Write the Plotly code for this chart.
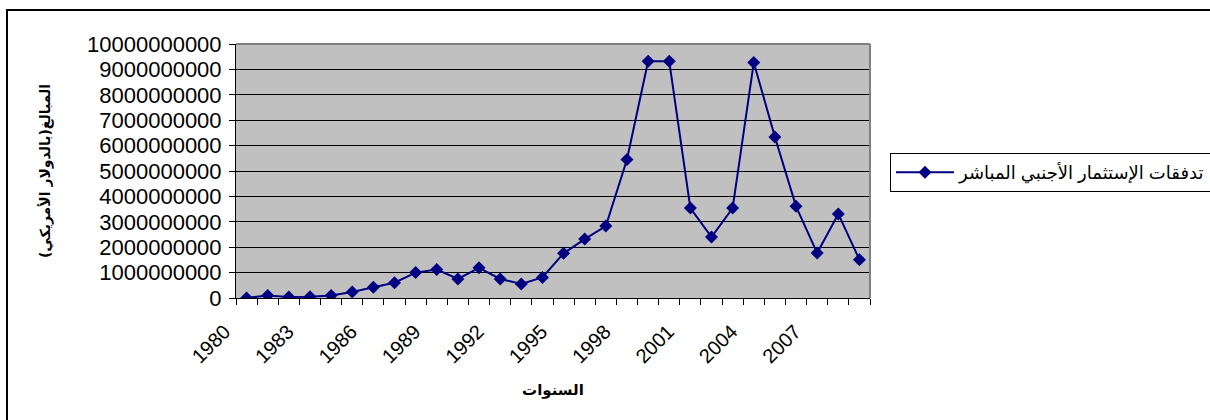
import plotly.graph_objects as go

years = list(range(1980, 2010))
fdi_usd = [0.00e9, 0.10e9, 0.04e9, 0.05e9, 0.10e9, 0.24e9, 0.42e9, 0.60e9, 1.00e9, 1.12e9,
           0.75e9, 1.19e9, 0.75e9, 0.55e9, 0.81e9, 1.76e9, 2.32e9, 2.83e9, 5.45e9, 9.32e9,
           9.32e9, 3.54e9, 2.40e9, 3.54e9, 9.27e9, 6.34e9, 3.61e9, 1.77e9, 3.31e9, 1.51e9]
tick_years = [1980, 1983, 1986, 1989, 1992, 1995, 1998, 2001, 2004, 2007]
tick_labels = [str(y) for y in tick_years]
y_ticks = [0, 1e9, 2e9, 3e9, 4e9, 5e9, 6e9, 7e9, 8e9, 9e9, 1e10]

series_name = "تدفقات الإستثمار الأجنبي المباشر"
x_title = "السنوات"
y_title = "المبالغ(بالدولار الأمريكي)"

FONT = "Liberation Sans, Arial, DejaVu Sans, sans-serif"
NAVY = "#000080"

fig = go.Figure()
fig.add_trace(go.Scatter(
    x=years, y=fdi_usd, mode="lines+markers", name=series_name,
    line=dict(color=NAVY, width=2),
    marker=dict(symbol="diamond", size=10, color=NAVY),
))

fig.update_layout(
    width=1210, height=420,
    margin=dict(l=236, r=340, t=44, b=122, autoexpand=False),
    paper_bgcolor="white", plot_bgcolor="#C0C0C0",
    font=dict(family=FONT, color="black"),
    showlegend=True,
    legend=dict(
        x=1.0315, y=0.571, xanchor="left", yanchor="top",
        bordercolor="black", borderwidth=1, bgcolor="white",
        font=dict(size=18, family=FONT), itemwidth=58,
    ),
)

fig.update_xaxes(
    range=[1979.5, 2009.5], tickmode="array", tickvals=tick_years, ticktext=tick_labels,
    tickangle=-45, tickfont=dict(size=20), ticks="outside", ticklen=0,
    ticklabelshift=-22, ticklabelstandoff=13,
    minor=dict(tickmode="linear", tick0=1979.5, dtick=1, ticks="outside", ticklen=6,
               tickcolor="black", showgrid=False),
    showgrid=False, showline=True, linecolor="black", linewidth=1, zeroline=False,
    title=dict(text=x_title, font=dict(size=15, family="DejaVu Sans", weight="bold"), standoff=18),
    automargin=False,
)
fig.update_yaxes(
    range=[0, 1e10], tickmode="array", tickvals=y_ticks, tickformat="d",
    tickfont=dict(size=22), ticks="outside", ticklen=6, tickcolor="black",
    ticklabelstandoff=3,
    showgrid=True, gridcolor="black", gridwidth=1,
    showline=True, linecolor="black", linewidth=1, zeroline=False,
    title=dict(text=y_title, font=dict(size=14, family="DejaVu Sans", weight="bold"), standoff=33),
    automargin=False,
)

# plot area border (top / right) in gray
fig.add_shape(type="line", xref="paper", yref="paper", x0=0, x1=1, y0=1, y1=1,
              line=dict(color="#808080", width=2), layer="above")
fig.add_shape(type="line", xref="paper", yref="paper", x0=1, x1=1, y0=0, y1=1,
              line=dict(color="#808080", width=2), layer="above")
# outer chart border
fig.add_shape(type="rect", xref="paper", yref="paper", x0=-0.3612, x1=1.8, y0=1.1339, y1=-0.8,
              line=dict(color="black", width=2), layer="below")

fig.write_html("out.html", config={"displayModeBar": False},
               post_script="document.body.style.margin='0';")
